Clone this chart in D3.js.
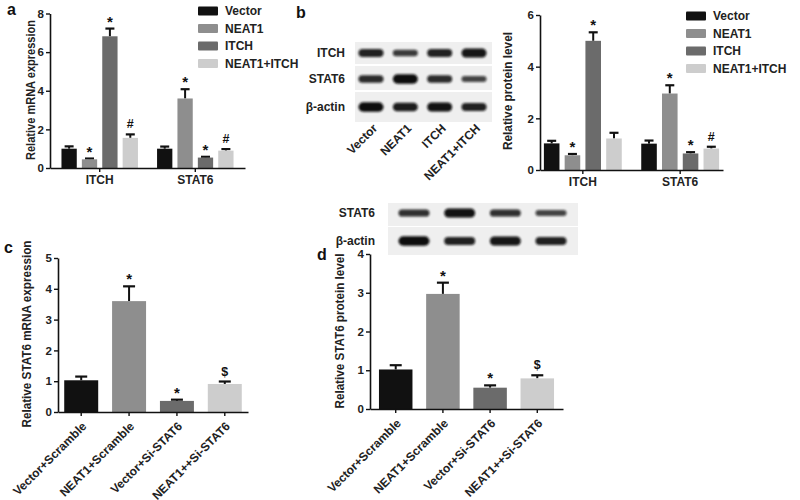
<!DOCTYPE html>
<html><head><meta charset="utf-8">
<script src="https://cdn.jsdelivr.net/npm/d3@7"></script>
<style>
body{margin:0;background:#fff;}
svg{font-family:"Liberation Sans",Arial,sans-serif;font-weight:bold;}
</style></head>
<body>
<script>
// ---------- DATA ----------
const groupNames = ["ITCH", "STAT6"];
const seriesNames = ["Vector", "NEAT1", "ITCH", "NEAT1+ITCH"];
const seriesColors = ["#111111", "#8e8e8e", "#6b6b6b", "#cdcdcd"];

// panel a: relative mRNA expression
const mrnaVector = [1.0, 1.0];
const mrnaNEAT1 = [0.45, 3.6];
const mrnaITCH = [6.82, 0.54];
const mrnaCombo = [1.56, 0.9];
const mrnaErrVector = [0.12, 0.11];
const mrnaErrNEAT1 = [0.04, 0.48];
const mrnaErrITCH = [0.4, 0.04];
const mrnaErrCombo = [0.18, 0.08];
const mrnaMarks = [["", ""], ["*", "*"], ["*", "*"], ["#", "#"]];

// panel b: relative protein level
const protVector = [1.03, 1.02];
const protNEAT1 = [0.57, 2.96];
const protITCH = [5.0, 0.64];
const protCombo = [1.22, 0.83];
const protErrVector = [0.1, 0.12];
const protErrNEAT1 = [0.05, 0.32];
const protErrITCH = [0.33, 0.05];
const protErrCombo = [0.22, 0.07];
const protMarks = [["", ""], ["*", "*"], ["*", "*"], ["", "#"]];

// panels c, d
const siCategories = ["Vector+Scramble", "NEAT1+Scramble", "Vector+Si-STAT6", "NEAT1++Si-STAT6"];
const siColors = ["#111111", "#8e8e8e", "#6b6b6b", "#cdcdcd"];
const stat6Mrna = [1.03, 3.6, 0.36, 0.91];
const stat6MrnaErr = [0.12, 0.48, 0.04, 0.08];
const stat6Protein = [1.02, 2.97, 0.55, 0.79];
const stat6ProteinErr = [0.11, 0.29, 0.06, 0.08];
const siMarks = ["", "*", "*", "$"];

// tick values
const ticksA = [0, 2, 4, 6, 8];
const ticksB = [0, 2, 4, 6];
const ticksC = [0, 1, 2, 3, 4, 5];
const ticksD = [0, 1, 2, 3, 4];

// western blot lanes and relative band strength
const blotLanesB = ["Vector", "NEAT1", "ITCH", "NEAT1+ITCH"];
const blotRowsB = ["ITCH", "STAT6", "β-actin"];
const bandB_ITCH = [0.8, 0.55, 0.8, 0.9];
const bandB_STAT6 = [0.7, 1.0, 0.7, 0.45];
const bandB_actin = [1.0, 0.85, 0.95, 0.8];
const blotRowsD = ["STAT6", "β-actin"];
const bandD_STAT6 = [0.65, 0.95, 0.65, 0.45];
const bandD_actin = [1.0, 0.8, 0.9, 0.8];

// ---------- DRAWING ----------
const svg = d3.select("body").append("svg").attr("width", 800).attr("height", 500);
const defs = svg.append("defs");
defs.append("filter").attr("id", "blur").attr("x", "-20%").attr("y", "-50%").attr("width", "140%").attr("height", "200%")
  .append("feGaussianBlur").attr("stdDeviation", 1.1);

const fmt = d3.format("d");

function styleAxis(g, fs) {
  g.selectAll("path.domain").attr("stroke", "#111").attr("stroke-width", 1.6);
  g.selectAll(".tick line").attr("stroke", "#111").attr("stroke-width", 1.4);
  g.selectAll(".tick text").attr("fill", "#222").style("font-size", fs + "px").style("font-weight", "bold")
    .style("font-family", '"Liberation Sans",Arial,sans-serif');
}

function yAxisLabel(text, x, yc, fs, len) {
  svg.append("text").attr("transform", `translate(${x},${yc}) rotate(-90)`)
    .attr("text-anchor", "middle").attr("dy", "0.35em").style("font-size", fs + "px").attr("fill", "#222")
    .attr("textLength", len).attr("lengthAdjust", "spacingAndGlyphs").text(text);
}

function panelLabel(t, x, y) {
  svg.append("text").attr("x", x).attr("y", y).style("font-size", "16px").attr("fill", "#111").text(t);
}

function drawErrAndMark(g, cx, yTop, yErr, mark, capW) {
  g.append("line").attr("x1", cx).attr("x2", cx).attr("y1", yTop).attr("y2", yErr).attr("stroke", "#111").attr("stroke-width", 2);
  g.append("line").attr("x1", cx - capW / 2).attr("x2", cx + capW / 2).attr("y1", yErr).attr("y2", yErr).attr("stroke", "#111").attr("stroke-width", 2.2);
  if (mark) {
    const isStar = mark === "*";
    g.append("text").attr("x", cx).attr("y", yErr - (isStar ? 2 : 6)).attr("text-anchor", "middle")
      .style("font-size", isStar ? "15px" : "12.5px").attr("fill", "#111").text(mark);
  }
}

function groupedChart(o) {
  const g = svg.append("g");
  const x = d3.scaleBand().domain(groupNames).range([o.left, o.right]).paddingInner(0.2).paddingOuter(o.po);
  const xi = d3.scaleBand().domain(seriesNames).range([0, x.bandwidth()]).paddingInner(0.25);
  const y = d3.scaleLinear().domain([0, o.ymax]).range([o.bottom, o.top]);
  seriesNames.forEach((s, si) => {
    groupNames.forEach((gr, gi) => {
      const v = o.values[si][gi], e = o.errors[si][gi];
      const bx = x(gr) + xi(s);
      const cx = bx + xi.bandwidth() / 2;
      drawErrAndMark(g, cx, y(v), y(v + e), o.marks[si][gi], 9);
      g.append("rect").attr("x", bx).attr("y", y(v)).attr("width", xi.bandwidth()).attr("height", y(0) - y(v))
        .attr("fill", seriesColors[si]);
    });
  });
  const ya = g.append("g").attr("transform", `translate(${o.left},0)`)
    .call(d3.axisLeft(y).tickValues(o.ticks).tickFormat(fmt).tickSize(4).tickSizeOuter(0).tickPadding(2));
  styleAxis(ya, 11.5);
  const xa = g.append("g").attr("transform", `translate(0,${o.bottom})`)
    .call(d3.axisBottom(x).tickSize(4).tickSizeOuter(0).tickPadding(3));
  styleAxis(xa, 12);
  // legend
  const lg = svg.append("g").attr("transform", `translate(${o.legX},${o.legY})`);
  seriesNames.forEach((s, i) => {
    const row = lg.append("g").attr("transform", `translate(0,${i * 17.5})`);
    row.append("rect").attr("x", 0).attr("y", -4.5).attr("width", 20).attr("height", 9).attr("rx", 1).attr("fill", seriesColors[i]);
    row.append("text").attr("x", 27).attr("y", 0).attr("dy", "0.35em").style("font-size", "12px").attr("fill", "#222").text(s);
  });
}

function simpleChart(o) {
  const g = svg.append("g");
  const x = d3.scaleBand().domain(siCategories).range([o.left, o.right]).paddingInner(0.29).paddingOuter(o.po);
  const y = d3.scaleLinear().domain([0, o.ymax]).range([o.bottom, o.top]);
  siCategories.forEach((c, i) => {
    const v = o.values[i], e = o.errors[i];
    const cx = x(c) + x.bandwidth() / 2;
    drawErrAndMark(g, cx, y(v), y(v + e), siMarks[i], 12);
    g.append("rect").attr("x", x(c)).attr("y", y(v)).attr("width", x.bandwidth()).attr("height", y(0) - y(v))
      .attr("fill", siColors[i]);
  });
  const ya = g.append("g").attr("transform", `translate(${o.left},0)`)
    .call(d3.axisLeft(y).tickValues(o.ticks).tickFormat(fmt).tickSize(4).tickSizeOuter(0).tickPadding(2));
  styleAxis(ya, 11.5);
  const xa = g.append("g").attr("transform", `translate(0,${o.bottom})`)
    .call(d3.axisBottom(x).tickSize(4).tickSizeOuter(0));
  styleAxis(xa, 12);
  xa.selectAll(".tick text").attr("text-anchor", "end").attr("dy", null)
    .attr("transform", "translate(6,15) rotate(-45)").attr("y", 0).attr("x", 0);
}

function drawBlot(o) {
  const g = svg.append("g");
  const lx = d3.scalePoint().domain(blotLanesB).range([o.laneStart, o.laneEnd]);
  o.rows.forEach((r, ri) => {
    g.append("rect").attr("x", o.bgX).attr("y", r.top).attr("width", o.bgW).attr("height", r.h).attr("fill", "#efefef");
    g.append("text").attr("x", o.labelX).attr("y", r.cy).attr("dy", "0.35em").attr("text-anchor", "end")
      .style("font-size", "12px").attr("fill", "#222").text(r.name);
    r.strength.forEach((s, li) => {
      const th = 3 + s * 6.5;
      g.append("rect").attr("x", lx(blotLanesB[li]) - o.bandW / 2).attr("y", r.cy - th / 2)
        .attr("width", o.bandW).attr("height", th).attr("rx", th / 2)
        .attr("fill", "#0d0d0d").attr("opacity", 0.55 + 0.45 * s).attr("filter", "url(#blur)");
    });
  });
  if (o.laneLabels) {
    blotLanesB.forEach(l => {
      g.append("text").attr("text-anchor", "end")
        .attr("transform", `translate(${lx(l) + 7},${o.laneLabelY}) rotate(-45)`)
        .style("font-size", "12px").attr("fill", "#222").text(l);
    });
  }
}

// panel a
panelLabel("a", 7, 15);
groupedChart({
  left: 50, right: 245, top: 13.5, bottom: 168, ymax: 8, ticks: ticksA, po: 0.12,
  values: [mrnaVector, mrnaNEAT1, mrnaITCH, mrnaCombo],
  errors: [mrnaErrVector, mrnaErrNEAT1, mrnaErrITCH, mrnaErrCombo],
  marks: mrnaMarks, legX: 198, legY: 11
});
yAxisLabel("Relative mRNA expression", 31, 90, 12, 140);

// panel b blot
panelLabel("b", 296, 18);
drawBlot({
  bgX: 355, bgW: 137, labelX: 345, bandW: 25, laneStart: 371, laneEnd: 474,
  rows: [
    {name: blotRowsB[0], top: 42, h: 22, cy: 53, strength: bandB_ITCH},
    {name: blotRowsB[1], top: 66, h: 24, cy: 79, strength: bandB_STAT6},
    {name: blotRowsB[2], top: 92, h: 30, cy: 107, strength: bandB_actin}
  ],
  laneLabels: true, laneLabelY: 129
});

// panel b chart
groupedChart({
  left: 540, right: 723, top: 15, bottom: 170, ymax: 6, ticks: ticksB, po: 0.04,
  values: [protVector, protNEAT1, protITCH, protCombo],
  errors: [protErrVector, protErrNEAT1, protErrITCH, protErrCombo],
  marks: protMarks, legX: 686, legY: 16
});
yAxisLabel("Relative protein level", 508, 91, 12, 118);

// panel c
panelLabel("c", 4, 253);
simpleChart({left: 58, right: 248, top: 258, bottom: 412, ymax: 5, ticks: ticksC, po: 0.13,
  values: stat6Mrna, errors: stat6MrnaErr});
yAxisLabel("Relative STAT6 mRNA expression", 27, 334, 12, 187);

// panel d blot
drawBlot({
  bgX: 388, bgW: 190, labelX: 375, bandW: 31, laneStart: 414, laneEnd: 551,
  rows: [
    {name: blotRowsD[0], top: 203, h: 23, cy: 213, strength: bandD_STAT6},
    {name: blotRowsD[1], top: 227, h: 28, cy: 241, strength: bandD_actin}
  ],
  laneLabels: false
});

// panel d
panelLabel("d", 317, 260);
simpleChart({left: 370, right: 563, top: 254, bottom: 409, ymax: 4, ticks: ticksD, po: 0.19,
  values: stat6Protein, errors: stat6ProteinErr});
yAxisLabel("Relative STAT6 protein level", 340, 331, 12, 155);
</script>
</body></html>
